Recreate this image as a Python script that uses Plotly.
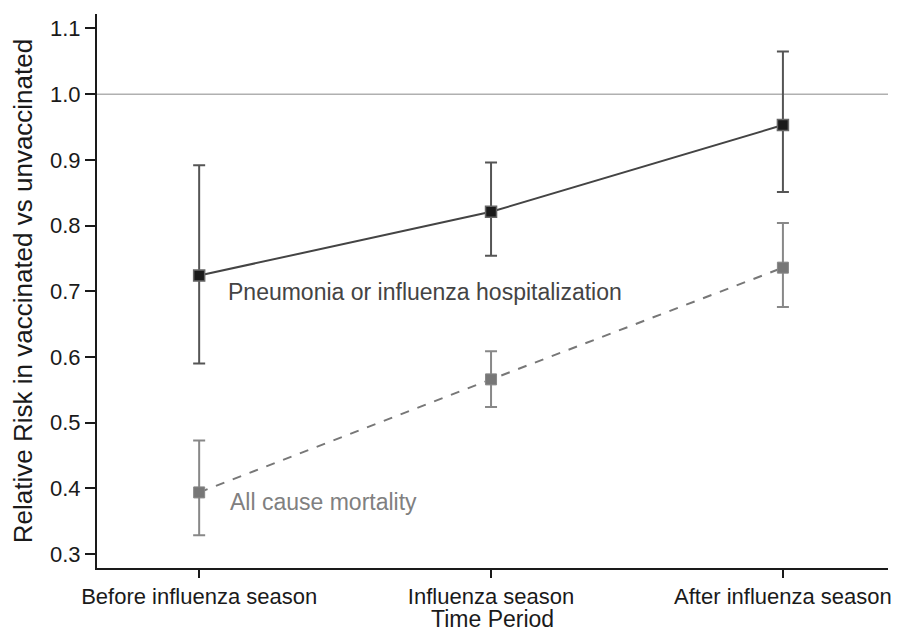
import plotly.graph_objects as go

periods = ["Before influenza season", "Influenza season", "After influenza season"]
pneu_rr = [0.724, 0.821, 0.953]
pneu_lo = [0.590, 0.754, 0.851]
pneu_hi = [0.892, 0.896, 1.065]
mort_rr = [0.394, 0.566, 0.736]
mort_lo = [0.329, 0.524, 0.676]
mort_hi = [0.473, 0.609, 0.804]
y_ticks = [0.3, 0.4, 0.5, 0.6, 0.7, 0.8, 0.9, 1.0, 1.1]

FONT = "Liberation Sans, Arial, sans-serif"

fig = go.Figure()

fig.add_trace(go.Scatter(
    x=periods, y=mort_rr, mode="lines+markers",
    line=dict(color="#777777", width=2, dash="dash"),
    marker=dict(symbol="square", size=11, color="#777777", line=dict(color="#888888", width=1)),
    error_y=dict(type="data", symmetric=False,
                 array=[h - v for h, v in zip(mort_hi, mort_rr)],
                 arrayminus=[v - l for l, v in zip(mort_lo, mort_rr)],
                 color="#888888", thickness=2, width=6),
    showlegend=False))

fig.add_trace(go.Scatter(
    x=periods, y=pneu_rr, mode="lines+markers",
    line=dict(color="#444444", width=2),
    marker=dict(symbol="square", size=11, color="#1a1a1a", line=dict(color="#666666", width=1.5)),
    error_y=dict(type="data", symmetric=False,
                 array=[h - v for h, v in zip(pneu_hi, pneu_rr)],
                 arrayminus=[v - l for l, v in zip(pneu_lo, pneu_rr)],
                 color="#555555", thickness=2, width=6),
    showlegend=False))

fig.add_shape(type="line", xref="paper", x0=0, x1=1, yref="y", y0=1.0, y1=1.0,
              line=dict(color="#b0b0b0", width=1.5), layer="below")

fig.add_annotation(x=0, y=0.699, xref="x", yref="y", xshift=27, xanchor="left", yanchor="middle",
                   text="Pneumonia or influenza hospitalization", showarrow=False,
                   font=dict(family=FONT, size=23, color="#444444"))
fig.add_annotation(x=0, y=0.379, xref="x", yref="y", xshift=29, xanchor="left", yanchor="middle",
                   text="All cause mortality", showarrow=False,
                   font=dict(family=FONT, size=23, color="#808080"))

# x-axis title placed as an annotation just under the tick labels
fig.add_annotation(x=0.5, y=0, xref="paper", yref="paper", xanchor="center", yanchor="middle",
                   yshift=-51, text="Time Period", showarrow=False,
                   font=dict(family=FONT, size=23, color="#1a1a1a"))

# plot area at x 97-888, y 14-568
fig.update_layout(
    width=898, height=631,
    margin=dict(l=97, r=10, t=14, b=63, autoexpand=False),
    paper_bgcolor="white", plot_bgcolor="white",
    font=dict(family=FONT, size=22, color="#1a1a1a"),
    xaxis=dict(type="category", range=[-0.35, 2.36], showgrid=False, zeroline=False,
               showline=True, linecolor="#1a1a1a", linewidth=2,
               ticks="outside", ticklen=8, tickwidth=1.5, tickcolor="#1a1a1a",
               tickfont=dict(size=22), automargin=False),
    yaxis=dict(range=[0.279, 1.122], tickvals=y_ticks, ticktext=[f"{v:.1f}" for v in y_ticks],
               showgrid=False, zeroline=False,
               showline=True, linecolor="#1a1a1a", linewidth=2,
               ticks="outside", ticklen=10, tickwidth=1.5, tickcolor="#1a1a1a",
               title=dict(text="Relative Risk in vaccinated vs unvaccinated", font=dict(size=26), standoff=10),
               tickfont=dict(size=22), automargin=False),
)

fig.write_html("out.html", config={"displayModeBar": False},
               post_script="document.body.style.margin='0';document.body.style.overflow='hidden';")
